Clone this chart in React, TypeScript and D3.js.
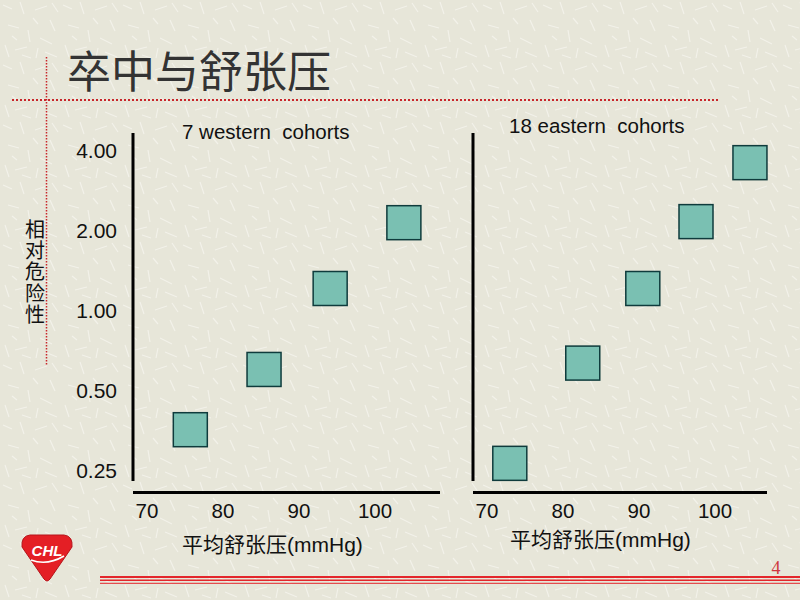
import React from "react";
import * as d3 from "d3";

const xTicks = [70, 80, 90, 100];
const yTicks = [4, 2, 1, 0.5, 0.25];
const yTickLabels = ["4.00", "2.00", "1.00", "0.50", "0.25"];

const westernDBP = [75.7, 85.4, 94.1, 103.8];
const westernRR = [0.356, 0.6, 1.21, 2.14];
const easternDBP = [73.0, 82.6, 90.5, 97.5, 104.6];
const easternRR = [0.266, 0.634, 1.21, 2.16, 3.6];

const panelTitles = ["7 western  cohorts", "18 eastern  cohorts"];
const title = "卒中与舒张压";
const yLabel = "相对危险性";
const xLabel = "平均舒张压(mmHg)";

// decorative background scratches (tile coordinates)
const scratch = [
  [3, 5, 12, 9], [20, 2, 24, 14], [35, 10, 47, 6], [50, 20, 55, 31], [8, 25, 19, 28],
  [28, 30, 30, 42], [40, 38, 52, 44], [5, 45, 9, 57], [15, 50, 27, 47], [45, 52, 57, 57],
  [33, 18, 38, 24], [12, 36, 17, 40], [52, 3, 58, 12], [22, 55, 31, 58], [38, 48, 36, 58],
];

const LATIN = "'Liberation Sans', Arial, 'Noto Sans CJK SC', sans-serif";
const CJK = "'Noto Sans CJK SC', 'Liberation Sans', sans-serif";

export default function App() {
  const y = d3.scaleLog().base(2).domain([0.25, 4]).range([470.5, 150.5]);
  const panels = [
    { x0: 147, axisX: 133, axisEnd: 440, xs: westernDBP, ys: westernRR, title: panelTitles[0], tx: 182, ty: 139, lx: 182, ly: 552 },
    { x0: 487, axisX: 473, axisEnd: 767, xs: easternDBP, ys: easternRR, title: panelTitles[1], tx: 509, ty: 133, lx: 510, ly: 547 },
  ];
  const sq = 34;
  return (
    <svg width={800} height={600} style={{ position: "absolute", left: 0, top: 0 }}>
      <defs>
        <pattern id="bg" width={60} height={60} patternUnits="userSpaceOnUse">
          <rect width={60} height={60} fill="#e7e6d9" />
          {scratch.map((s, i) => (
            <line key={i} x1={s[0]} y1={s[1]} x2={s[2]} y2={s[3]} stroke="#f3f2ea" strokeWidth={1.2} />
          ))}
        </pattern>
      </defs>
      <rect width={800} height={600} fill="url(#bg)" />

      {/* dotted guides */}
      <line x1={12} x2={720} y1={100} y2={100} stroke="#c8262a" strokeWidth={2} strokeDasharray="2 2" />
      <line x1={46.5} x2={46.5} y1={57} y2={365} stroke="#c8262a" strokeWidth={1.5} strokeDasharray="1.5 1.5" />

      <text x={67} y={88} fontFamily={CJK} fontSize={44} fill="#333">{title}</text>

      {/* y label, vertical */}
      <text x={35} y={219} fontFamily={CJK} fontSize={20} fill="#111"
        style={{ writingMode: "vertical-rl", textOrientation: "upright", letterSpacing: "1.4px" }}>{yLabel}</text>

      {/* y tick labels */}
      {yTicks.map((t, i) => (
        <text key={t} x={117} y={y(t)} dy="0.35em" textAnchor="end" fontFamily={LATIN} fontSize={21} fill="#111">{yTickLabels[i]}</text>
      ))}

      {panels.map((p, pi) => {
        const x = d3.scaleLinear().domain([70, 100]).range([p.x0, p.x0 + 228]);
        return (
          <g key={pi}>
            <line x1={p.axisX} x2={p.axisX} y1={133} y2={481} stroke="#000" strokeWidth={3} />
            <line x1={p.axisX} x2={p.axisEnd} y1={492.5} y2={492.5} stroke="#000" strokeWidth={3} />
            {xTicks.map((t) => (
              <text key={t} x={x(t)} y={518} textAnchor="middle" fontFamily={LATIN} fontSize={20.5} fill="#111">{t}</text>
            ))}
            <text x={p.tx} y={p.ty} fontFamily={LATIN} fontSize={20.5} fill="#111" style={{ whiteSpace: "pre" }}>{p.title}</text>
            <text x={p.lx} y={p.ly} fontFamily={LATIN} fontSize={21} fill="#111">{xLabel}</text>
            {p.xs.map((v, i) => (
              <rect key={i} x={x(v) - sq / 2} y={y(p.ys[i]) - sq / 2} width={sq} height={sq}
                fill="#7ac0b2" stroke="#0f3b3c" strokeWidth={1.5} />
            ))}
          </g>
        );
      })}

      {/* bottom rule */}
      <line x1={100} x2={800} y1={577} y2={577} stroke="#e3262b" strokeWidth={1.8} />
      <line x1={100} x2={800} y1={580.3} y2={580.3} stroke="#e3262b" strokeWidth={1.4} />
      <line x1={100} x2={800} y1={583.3} y2={583.3} stroke="#e3262b" strokeWidth={1} />
      <text x={776} y={574} textAnchor="middle" fontFamily="'Liberation Serif', serif" fontSize={18} fill="#cf3640">4</text>

      {/* logo */}
      <path d="M30,535 L64,535 Q73,536 72,547 L50,579 Q47,583 44,579 L22,547 Q21,536 30,535 Z" fill="#e41f25" stroke="#b5141a" strokeWidth={1} />
      <text x={47} y={556} textAnchor="middle" fontFamily={LATIN} fontStyle="italic" fontWeight="bold" fontSize={15} fill="#fff">CHL</text>
      <path d="M31,560 Q47,566 64,556" fill="none" stroke="#fff" strokeWidth={1.6} />
    </svg>
  );
}
